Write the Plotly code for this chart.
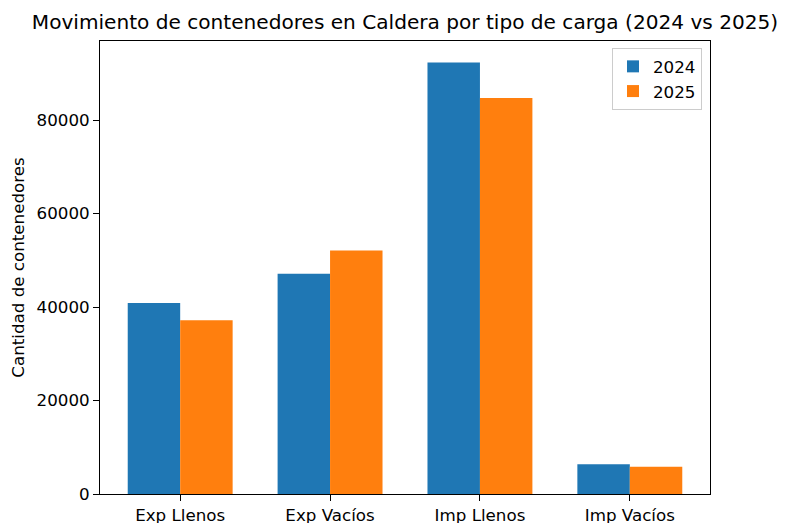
import plotly.graph_objects as go

categories = ["Exp Llenos", "Exp Vacíos", "Imp Llenos", "Imp Vacíos"]
values_2024 = [40850, 47130, 92300, 6360]
values_2025 = [37160, 52100, 84700, 5850]
series_names = ["2024", "2025"]
ytick_vals = [0, 20000, 40000, 60000, 80000]

positions = list(range(len(categories)))
ymax = max(values_2024 + values_2025) * 1.05

# page body has an 8px margin, so figure is sized to fit the window after it
W, H = 777, 515
ml, mr, mt, mb = 92, 75, 33, 29
FS = 16.7

fig = go.Figure()
fig.add_trace(go.Bar(x=positions, y=values_2024, name=series_names[0], legendgroup="a",
                     marker=dict(color="#1f77b4", line=dict(width=0))))
fig.add_trace(go.Bar(x=positions, y=values_2025, name=series_names[1], legendgroup="b",
                     marker=dict(color="#ff7f0e", line=dict(width=0))))

fig.update_layout(
    width=W, height=H,
    margin=dict(l=ml, r=mr, t=mt, b=mb, pad=0, autoexpand=False),
    paper_bgcolor="white", plot_bgcolor="white",
    font=dict(family="DejaVu Sans", size=FS, color="black"),
    barmode="group", bargap=0.3, bargroupgap=0,
    showlegend=True,
    title=dict(text="Movimiento de contenedores en Caldera por tipo de carga (2024 vs 2025)",
               x=0.5, xref="paper", xanchor="center",
               y=1 - 14 / H, yref="container", yanchor="middle",
               font=dict(size=20.1, color="black")),
    legend=dict(x=1 - 8 / (W - ml - mr), xanchor="right", xref="paper",
                y=1 - 7 / (H - mt - mb), yanchor="top", yref="paper",
                bgcolor="rgba(255,255,255,0.8)", bordercolor="#cccccc", borderwidth=1,
                font=dict(size=FS, color="black"), itemwidth=30,
                tracegroupgap=0),
    xaxis=dict(range=[-0.535, len(categories) - 1 + 0.535], automargin=False,
               tickmode="array", tickvals=positions, ticktext=categories,
               showline=True, mirror=True, linecolor="black", linewidth=1,
               ticks="outside", ticklen=6, tickcolor="black", showgrid=False,
               zeroline=False),
    yaxis=dict(range=[0, ymax], tickmode="array", tickvals=ytick_vals, automargin=False,
               tickformat="d",
               showline=True, mirror=True, linecolor="black", linewidth=1,
               ticks="outside", ticklen=6, tickcolor="black", showgrid=False,
               zeroline=False,
               title=dict(text="Cantidad de contenedores", standoff=8,
                          font=dict(size=FS, color="black"))),
)

fig.write_html("out.html")
